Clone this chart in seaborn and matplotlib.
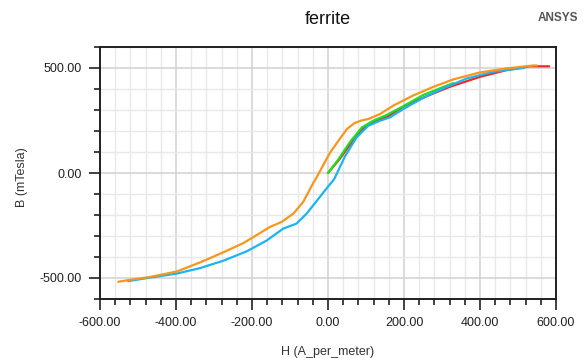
import numpy as np
import pandas as pd
import matplotlib
matplotlib.use("Agg")
import matplotlib.pyplot as plt
from matplotlib.ticker import MultipleLocator, FormatStrFormatter
import seaborn as sns

# ---- data ----
orange_H = [550, 540, 470, 400, 330, 277, 224, 172, 137, 106, 88, 70, 50, 30, 5, -31, -39,
            -65, -91, -122, -153, -179, -223, -276, -337, -398, -468, -512, -552]
orange_B = [512, 512, 498, 479, 446, 410, 369, 321, 281, 257, 250, 238, 210, 160, 96, -24, -48,
            -137, -193, -233, -257, -286, -334, -378, -426, -469, -495, -506, -518]

blue_H = [-526, -468, -398, -337, -276, -214, -161, -118, -83, -56, -21, 0, 16, 45, 75, 106,
          137, 163, 206, 259, 312, 365, 435, 505, 515]
blue_B = [-515, -498, -479, -453, -418, -373, -321, -265, -241, -193, -113, -65, -30, 80, 169, 225,
          249, 265, 313, 366, 410, 450, 482, 498, 500]

green_H = [0, 27, 58, 89, 119, 154, 198, 251, 304, 330]
green_B = [0, 64, 148, 217, 249, 276, 318, 372, 410, 428]

red_H = [0, 30, 60, 90, 120, 160, 200, 260, 320, 400, 470, 530, 582]
red_B = [0, 65, 140, 210, 245, 272, 318, 366, 410, 458, 490, 508, 508]

x_ticks = [-600, -400, -200, 0, 200, 400, 600]
y_ticks = [-500, 0, 500]

sns.set_style("white")
plt.rcParams['font.family'] = ['Liberation Sans', 'DejaVu Sans']

fig = plt.figure(figsize=(5.84, 3.58), dpi=100)
ax = fig.add_axes([100/584, 1-299/358, 456/584, 252/358])

series = [
    (red_H, red_B, "#f02828"),
    (green_H, green_B, "#1ee01e"),
    (blue_H, blue_B, "#1cb4f0"),
    (orange_H, orange_B, "#f7961e"),
]
for i, (h, b, c) in enumerate(series):
    df = pd.DataFrame({"H": h, "B": b})
    sns.lineplot(data=df, x="H", y="B", sort=False, estimator=None, color=c,
                 linewidth=1.6, ax=ax, zorder=3 + i)

ax.set_xlim(-600, 600)
ax.set_ylim(-600, 600)
ax.set_xticks(x_ticks)
ax.set_yticks(y_ticks)
ax.xaxis.set_minor_locator(MultipleLocator(40))
ax.yaxis.set_minor_locator(MultipleLocator(100))
ax.xaxis.set_major_formatter(FormatStrFormatter("%.2f"))
ax.yaxis.set_major_formatter(FormatStrFormatter("%.2f"))

ax.grid(which="minor", color="#e8e8e8", linewidth=1.0, zorder=0)
ax.grid(which="major", color="#d4d4d4", linewidth=1.2, zorder=0)
ax.set_axisbelow(True)

ax.tick_params(axis="both", which="major", direction="out", length=8, width=1.2,
               color="#202020", labelsize=9, labelcolor="#202020", pad=5,
               bottom=True, left=True)
ax.tick_params(axis="both", which="minor", direction="out", length=4, width=1.2,
               color="#202020", bottom=True, left=True)
for s in ax.spines.values():
    s.set_color("#202020")
    s.set_linewidth(1.4)
    s.set_visible(True)

ax.set_xlabel("")
ax.set_ylabel("")
fig.text(328/584, 1-352/358, "H (A_per_meter)", ha="center", va="center",
         fontsize=9, color="#333333")
fig.text(22/584, 1-177/358, "B (mTesla)", ha="center", va="center",
         rotation=90, fontsize=9, color="#333333")
fig.text(328/584, 1-19/358, "ferrite", ha="center", va="center",
         fontsize=13, color="#111111")
fig.text(578/584, 1-18/358, "ANSYS", ha="right", va="center",
         fontsize=8.5, fontweight="bold", color="#555555")

fig.savefig("out.png", dpi=100)
